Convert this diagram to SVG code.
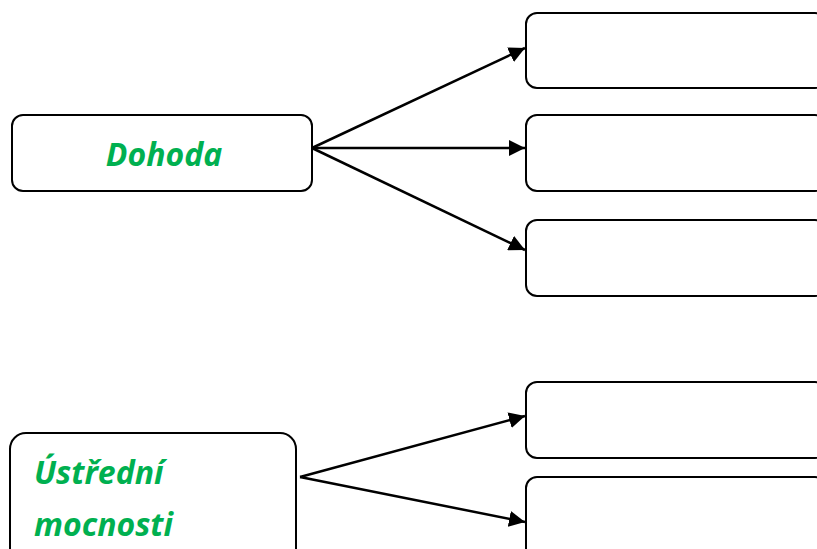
<svg xmlns="http://www.w3.org/2000/svg" width="817" height="549" viewBox="0 0 817 549">
<style>
.box{fill:#fff;stroke:#000;stroke-width:2}
.lbl{font-family:"Open Sans","Liberation Sans",sans-serif;font-weight:bold;font-style:italic;fill:#00B050;font-size:32px}
.con{stroke:#000;stroke-width:2.5;fill:none;marker-end:url(#ah)}
</style>
<defs>
<marker id="ah" viewBox="0 0 10 10" refX="10" refY="5" markerWidth="6.4" markerHeight="6.4" markerUnits="strokeWidth" orient="auto">
<path d="M0,0 L10,5 L0,10 z" fill="#000"/>
</marker>
</defs>
<rect width="817" height="549" fill="#fff"/>
<g id="connectors">
<line class="con" x1="312" y1="148" x2="525" y2="48"/>
<line class="con" x1="312" y1="148" x2="525" y2="148"/>
<line class="con" x1="312" y1="148" x2="525" y2="250"/>
<line class="con" x1="300" y1="477" x2="525" y2="416"/>
<line class="con" x1="300" y1="477" x2="525" y2="522"/>
</g>
<g id="n-dohoda">
<rect class="box" x="12" y="115" width="300" height="76" rx="11"/>
<text class="lbl" x="164" y="166" text-anchor="middle">Dohoda</text>
</g>
<g id="n-r1"><rect class="box" x="526" y="13" width="300" height="75" rx="11"/></g>
<g id="n-r2"><rect class="box" x="526" y="115" width="300" height="76" rx="11"/></g>
<g id="n-r3"><rect class="box" x="526" y="220" width="300" height="76" rx="11"/></g>
<g id="n-ustredni">
<rect class="box" x="10" y="433" width="286" height="140" rx="16"/>
<text class="lbl" x="34" y="484">Ústřední</text>
<text class="lbl" x="34" y="536">mocnosti</text>
</g>
<g id="n-r4"><rect class="box" x="526" y="382" width="300" height="76" rx="11"/></g>
<g id="n-r5"><rect class="box" x="526" y="477" width="300" height="100" rx="11"/></g>
</svg>
